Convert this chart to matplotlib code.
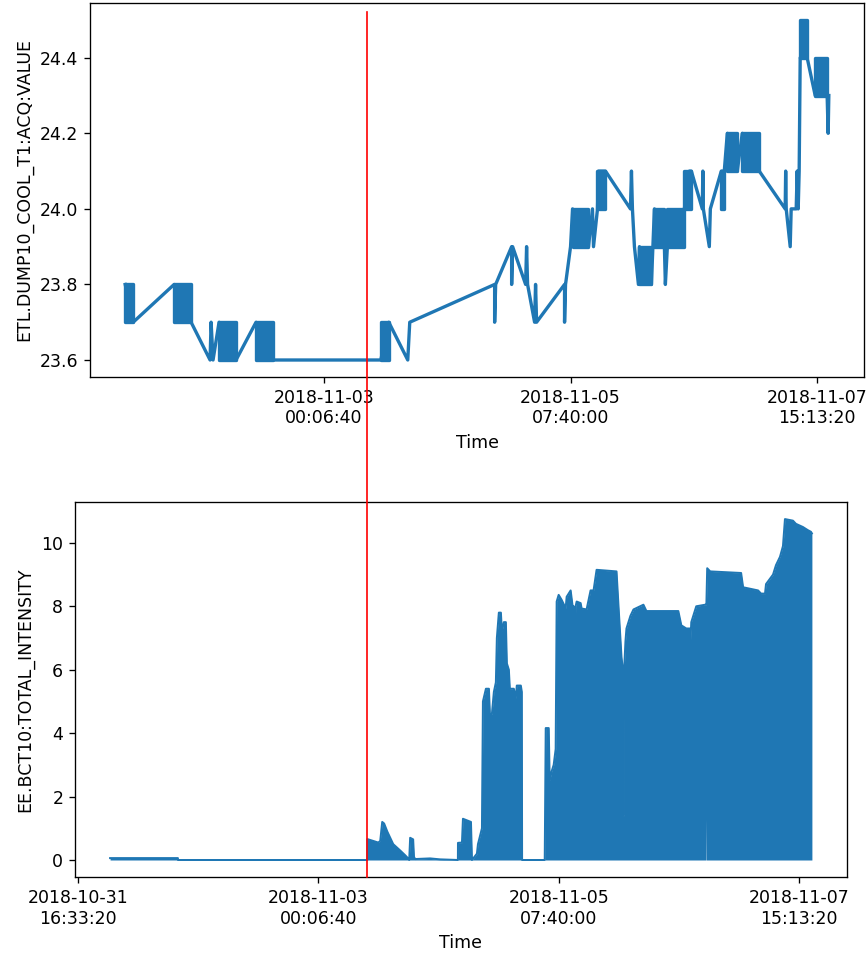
import numpy as np
import matplotlib
matplotlib.use("Agg")
import matplotlib.pyplot as plt
from matplotlib.ticker import MultipleLocator, FuncFormatter
from datetime import datetime, timezone, timedelta

plt.rcParams["font.size"] = 10.4

# Local time (CET) used for the logged timestamps
CET = timezone(timedelta(hours=1))
T0 = datetime(2018, 10, 31, 0, 0, 0, tzinfo=CET).timestamp()

# ---- ETL.DUMP10_COOL_T1:ACQ:VALUE (hours since 2018-10-31 00:00 CET) ----
temp_time_h = [
    27.35, 29.15, 38.37, 42.20, 46.47, 46.70, 47.14, 48.49, 52.32, 56.82,
    60.64, 84.93, 86.73, 91.00, 91.45, 110.57, 110.57, 110.80, 114.40, 114.40,
    114.62, 117.55, 117.77, 117.99, 119.57, 119.79, 120.02, 126.32, 126.32, 126.54,
    127.67, 128.12, 131.71, 132.61, 132.84, 133.74, 133.96, 135.54, 141.16, 141.39,
    141.61, 142.06, 142.96, 143.19, 145.88, 146.56, 148.81, 149.03, 149.48, 153.31,
    154.43, 154.88, 157.35, 157.47, 157.58, 158.93, 159.16, 161.63, 162.30, 162.98,
    165.23, 166.35, 170.18, 176.02, 176.13, 176.25, 177.15, 177.37, 178.50, 178.72,
    178.95, 179.17, 179.40, 180.97, 182.78, 185.47, 185.70, 185.85,
]
temp_value = [
    23.8, 23.7, 23.8, 23.7, 23.6, 23.7, 23.6, 23.7, 23.6, 23.7,
    23.6, 23.6, 23.7, 23.6, 23.7, 23.8, 23.7, 23.8, 23.9, 23.8,
    23.9, 23.8, 23.9, 23.8, 23.7, 23.8, 23.7, 23.8, 23.7, 23.8,
    23.9, 24.0, 23.9, 24.0, 23.9, 24.0, 24.1, 24.1, 24.0, 24.1,
    24.0, 23.9, 23.8, 23.9, 23.8, 24.0, 23.9, 23.8, 23.9, 24.0,
    24.1, 24.1, 24.0, 24.1, 24.0, 23.9, 24.0, 24.1, 24.1, 24.2,
    24.1, 24.2, 24.1, 24.0, 24.1, 24.0, 23.9, 24.0, 24.0, 24.1,
    24.0, 24.1, 24.4, 24.4, 24.3, 24.3, 24.2, 24.3,
]

# Periods where the sensor toggles rapidly between two adjacent readings
toggle_start_h = [27.35, 38.37, 48.49, 56.82, 84.93, 128.12, 133.74, 143.19,
                  146.56, 149.48, 153.31, 161.63, 162.98, 166.35, 179.40, 182.78]
toggle_end_h = [29.15, 42.20, 52.32, 60.64, 86.73, 131.71, 135.54, 145.88,
                148.81, 153.31, 154.88, 162.30, 165.23, 170.18, 180.97, 185.47]
toggle_low = [23.7, 23.7, 23.6, 23.6, 23.6, 23.9, 24.0, 23.8,
              23.9, 23.9, 24.0, 24.0, 24.1, 24.1, 24.4, 24.3]
toggle_high = [23.8, 23.8, 23.7, 23.7, 23.7, 24.0, 24.1, 23.9,
               24.0, 24.0, 24.1, 24.1, 24.2, 24.2, 24.5, 24.4]

# ---- EE.BCT10:TOTAL_INTENSITY envelope (hours since 2018-10-31 00:00 CET) ----
bct_time_h = [
    23.93, 39.61, 39.62, 83.40, 83.41, 85.94, 86.40, 86.86, 87.30, 88.02,
    89.40, 91.01, 92.16, 92.86, 93.10, 93.32, 94.01, 94.20, 94.47, 97.93,
    100.23, 104.36, 104.38, 105.30, 105.53, 107.38, 107.61, 108.76, 109.00, 109.92,
    110.15, 110.84, 111.53, 111.76, 112.22, 112.68, 113.14, 113.37, 113.83, 114.30,
    114.53, 114.99, 115.45, 115.68, 116.14, 116.37, 117.29, 117.75, 117.98, 118.91,
    119.14, 119.20, 124.44, 124.67, 125.36, 125.59, 126.05, 126.51, 126.97, 127.20,
    127.66, 128.36, 129.28, 129.51, 130.43, 130.89, 131.12, 131.35, 131.58, 131.82,
    132.74, 132.97, 134.12, 135.04, 135.73, 136.43, 141.04, 141.50, 142.19, 142.50,
    142.60, 142.70, 142.80, 143.11, 143.34, 144.26, 144.96, 147.26, 147.95, 155.33,
    156.02, 157.18, 158.00, 158.10, 158.33, 159.48, 161.55, 161.74, 161.78, 161.82,
    162.01, 162.70, 169.85, 170.31, 173.77, 174.46, 175.38, 175.61, 177.23, 177.92,
    178.84, 179.53, 179.99, 181.84, 182.53, 184.14, 185.29, 185.99, 186.22,
]
bct_high = [
    0.06, 0.06, 0.0, 0.0, 0.66, 0.55, 0.60, 1.20, 1.15, 0.90,
    0.50, 0.30, 0.15, 0.05, 0.0, 0.70, 0.65, 0.10, 0.03, 0.05,
    0.02, 0.0, 0.54, 0.55, 1.30, 1.20, 0.0, 0.20, 0.50, 1.00,
    5.00, 5.40, 5.40, 4.60, 4.60, 5.30, 5.60, 7.00, 7.80, 7.80,
    7.20, 7.50, 7.50, 6.20, 6.00, 5.40, 5.40, 5.10, 5.50, 5.50,
    5.30, 0.0, 0.0, 4.16, 4.16, 2.50, 2.80, 3.00, 3.50, 8.15,
    8.36, 8.20, 7.94, 8.30, 8.50, 8.00, 8.00, 5.70, 8.00, 8.15,
    8.10, 7.93, 7.90, 8.50, 8.50, 9.15, 9.10, 8.00, 6.40, 6.00,
    1.40, 1.40, 6.00, 6.90, 7.30, 7.70, 7.90, 8.05, 7.85, 7.85,
    7.40, 7.30, 7.30, 6.80, 7.50, 8.00, 8.05, 8.05, 8.05, 8.05,
    9.20, 9.10, 9.05, 8.60, 8.50, 8.40, 8.40, 8.70, 9.00, 9.30,
    9.56, 9.90, 10.75, 10.70, 10.60, 10.50, 10.40, 10.35, 10.30,
]
bct_low = [
    0.0, 0.0, 0.0, 0.0, 0.0, 0.0, 0.0, 0.0, 0.0, 0.0,
    0.0, 0.0, 0.0, 0.0, 0.0, 0.0, 0.0, 0.0, 0.0, 0.0,
    0.0, 0.0, 0.0, 0.0, 0.0, 0.0, 0.0, 0.0, 0.0, 0.0,
    0.0, 0.0, 0.0, 0.0, 0.0, 0.0, 0.0, 0.0, 0.0, 0.0,
    0.0, 0.0, 0.0, 0.0, 0.0, 0.0, 0.0, 0.0, 0.0, 0.0,
    0.0, 0.0, 0.0, 0.0, 0.0, 0.0, 0.0, 0.0, 0.0, 0.0,
    0.0, 0.0, 0.0, 0.0, 0.0, 0.0, 0.0, 0.0, 0.0, 0.0,
    0.0, 0.0, 0.0, 0.0, 0.0, 0.0, 0.0, 0.0, 0.0, 0.0,
    0.0, 0.0, 0.0, 0.0, 0.0, 0.0, 0.0, 0.0, 0.0, 0.0,
    0.0, 0.0, 0.0, 0.0, 0.0, 0.0, 0.0, 0.0, 1.30, 0.0,
    0.0, 0.0, 0.0, 0.0, 0.0, 0.0, 0.0, 0.0, 0.0, 0.0,
    0.0, 0.0, 0.0, 0.0, 0.0, 0.0, 0.0, 0.0, 0.0,
]

# Marker for the start of beam operation
event_h = 83.40

BLUE = "#1f77b4"


def to_epoch(hours):
    return T0 + np.asarray(hours, dtype=float) * 3600.0


def time_label(x, pos):
    return datetime.fromtimestamp(x, tz=CET).strftime("%Y-%m-%d\n%H:%M:%S")


fig = plt.figure(figsize=(868 / 120, 953 / 120), dpi=120)
ax1 = fig.add_axes([0.1037, 0.6044, 0.8917, 0.3925])
ax2 = fig.add_axes([0.0864, 0.0797, 0.8894, 0.3935])

# Temperature trace
ax1.plot(to_epoch(temp_time_h), temp_value, color=BLUE, lw=2.0)
for s, e, lo, hi in zip(toggle_start_h, toggle_end_h, toggle_low, toggle_high):
    ax1.fill_between(to_epoch([s, e]), lo, hi, color=BLUE, lw=2.0,
                     joinstyle="round")
ax1.set_ylabel("ETL.DUMP10_COOL_T1:ACQ:VALUE")
ax1.set_xlabel("Time")

# Beam intensity
t_bct = to_epoch(bct_time_h)
ax2.fill_between(t_bct, bct_low, bct_high, color=BLUE, lw=0)
ax2.plot(t_bct, bct_high, color=BLUE, lw=1.2)
ax2.set_ylabel("EE.BCT10:TOTAL_INTENSITY")
ax2.set_xlabel("Time")

for ax in (ax1, ax2):
    ax.xaxis.set_major_locator(MultipleLocator(200000))
    ax.xaxis.set_major_formatter(FuncFormatter(time_label))

# Vertical marker spanning both panels
ax2.axvline(to_epoch(event_h), ymin=0.0, ymax=2.307, color="red", lw=1.0,
            clip_on=False, zorder=5)

fig.savefig("out.png", dpi=120)
